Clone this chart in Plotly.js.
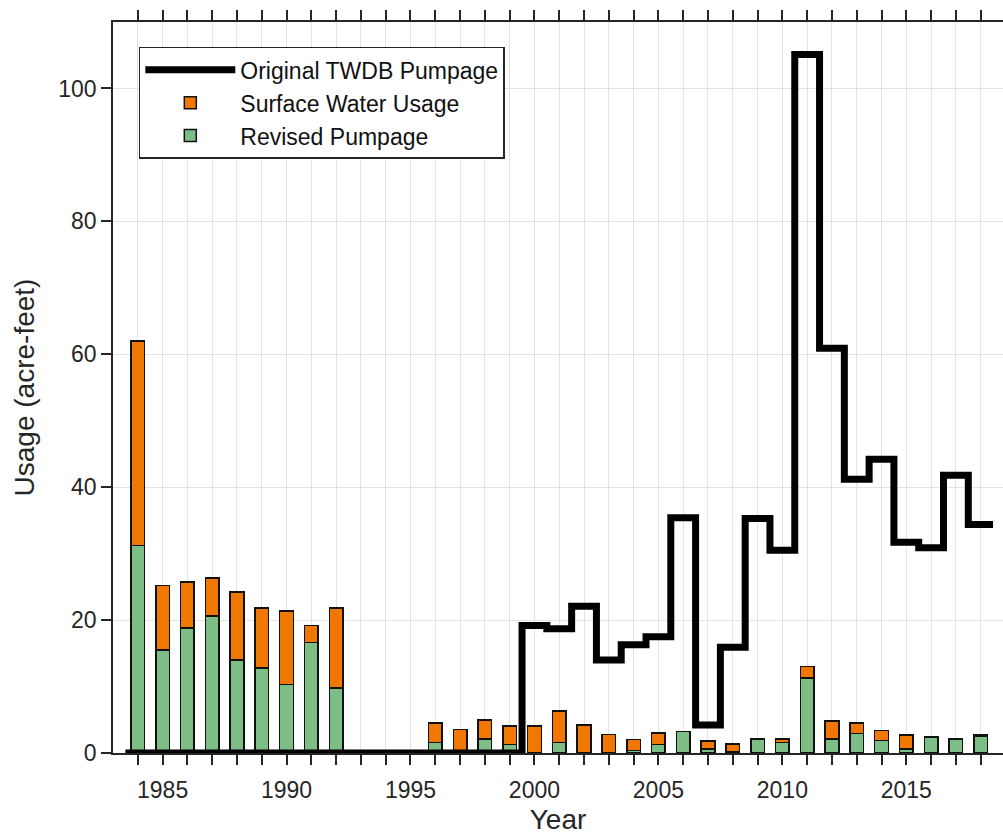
<!DOCTYPE html>
<html>
<head>
<meta charset="utf-8">
<script src="https://cdn.plot.ly/plotly-3.0.1.min.js"></script>
<style>html,body{margin:0;padding:0;background:#fff;overflow:hidden;}</style>
</head>
<body>
<div id="chart" style="width:1003px;height:835px;"></div>
<script>
// Years (categories)
const years = [1984,1985,1986,1987,1988,1989,1990,1991,1992,1993,1994,1995,1996,1997,1998,1999,
               2000,2001,2002,2003,2004,2005,2006,2007,2008,2009,2010,2011,2012,2013,2014,2015,2016,2017,2018];
// Revised Pumpage (green, bottom of stack)
const revisedPumpage = [31.2,15.5,18.8,20.6,14.0,12.8,10.3,16.6,9.8,0,0,0,1.55,0.4,2.1,1.3,
                        0,1.55,0,0.1,0.35,1.3,3.2,0.6,0.2,2.1,1.55,11.3,2.1,2.9,1.85,0.6,2.3,2.1,2.5];
// Surface Water Usage (orange, stacked on top)
const surfaceWater = [30.8,9.7,6.9,5.7,10.2,9.0,11.1,2.6,12.0,0.3,0.3,0,2.95,3.1,2.9,2.8,
                      4.1,4.75,4.2,2.7,1.65,1.7,0,1.2,1.15,0,0.55,1.7,2.7,1.6,1.55,2.1,0.1,0.1,0.2];
// Original TWDB Pumpage (stair line)
const originalTWDB = [0,0,0,0,0,0,0,0,0,0,0,0,0,0,0,0,
                      19.2,18.7,22.1,14.0,16.3,17.5,35.4,4.2,15.9,35.3,30.5,105.1,60.9,41.2,44.2,31.7,30.9,41.8,34.4];
// Tick labels
const tickYears = years;
const tickLabels = years.map(y => (y % 5 === 0 ? String(y) : ''));
const yTicks = [0,20,40,60,80,100];

// Stair line: each year's value spans [year-0.5, year+0.5]
const stairX = years.map(y => y - 0.5).concat([years[years.length-1] + 0.5]);
const stairY = originalTWDB.concat([originalTWDB[originalTWDB.length-1]]);

const font = 'Liberation Sans, Arial, Helvetica, sans-serif';
const dark = '#262626';

const traces = [
  {
    type: 'bar', x: years, y: revisedPumpage, name: 'Revised Pumpage', width: 0.55,
    marker: {color: '#7cbe86', line: {color: '#111', width: 1.5}}, legendrank: 3
  },
  {
    type: 'bar', x: years, y: surfaceWater, name: 'Surface Water Usage', width: 0.55,
    marker: {color: '#f07800', line: {color: '#111', width: 1.5}}, legendrank: 2
  },
  {
    type: 'scatter', mode: 'lines', x: stairX, y: stairY, name: 'Original TWDB Pumpage',
    line: {color: '#000', width: 7, shape: 'hv'}, legendrank: 1
  }
];

const layout = {
  width: 1003, height: 835,
  margin: {l: 113, r: 0, t: 22, b: 82},
  paper_bgcolor: '#fff', plot_bgcolor: '#fff',
  barmode: 'stack',
  font: {family: font, size: 23, color: dark},
  showlegend: true,
  legend: {
    x: 0.029, y: 0.966, xanchor: 'left', yanchor: 'top',
    bgcolor: '#fff', bordercolor: dark, borderwidth: 1.5,
    font: {family: font, size: 23, color: '#111'},
    traceorder: 'normal', itemwidth: 90,
    tracegroupgap: 0
  },
  xaxis: {
    range: [1983, 2018.9],
    tickmode: 'array', tickvals: tickYears, ticktext: tickLabels,
    ticks: 'outside', ticklen: 10, tickwidth: 1.5, tickcolor: dark,
    showline: true, linecolor: dark, linewidth: 1.5, mirror: 'ticks',
    showgrid: true, gridcolor: '#e3e3e3', gridwidth: 1.2,
    zeroline: false,
    ticklabelstandoff: 6,
    tickfont: {family: font, size: 23, color: dark},
    title: {text: 'Year', font: {family: font, size: 28, color: dark}, standoff: 12},
    automargin: false
  },
  yaxis: {
    range: [0, 110],
    tickmode: 'array', tickvals: yTicks,
    ticks: 'outside', ticklen: 10, tickwidth: 1.5, tickcolor: dark,
    showline: true, linecolor: dark, linewidth: 1.5, mirror: false,
    showgrid: true, gridcolor: '#e3e3e3', gridwidth: 1.2,
    zeroline: false,
    tickfont: {family: font, size: 23, color: dark},
    title: {text: 'Usage (acre-feet)', font: {family: font, size: 28, color: dark}, standoff: 15},
    automargin: false
  }
};

Plotly.newPlot('chart', traces, layout, {displayModeBar: false, responsive: false});
</script>
</body>
</html>
